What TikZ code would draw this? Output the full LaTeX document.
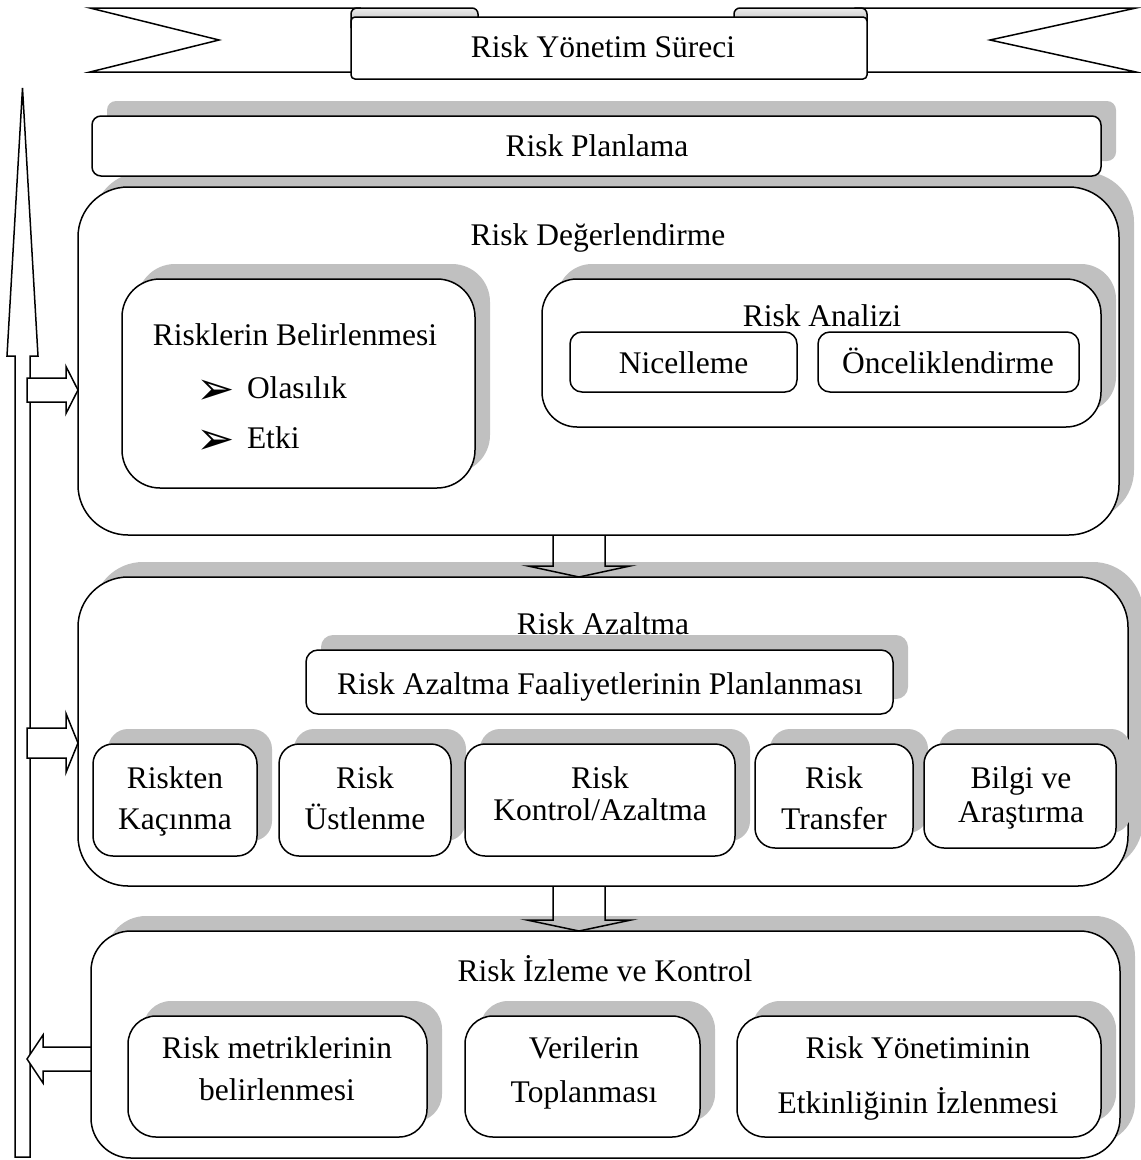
\documentclass[tikz,border=0pt]{standalone}
\usepackage{fontspec}
\setmainfont{Liberation Serif}
\newfontfamily\dingfont{DejaVu Sans}
\usetikzlibrary{calc,shadows}
\definecolor{shadegray}{RGB}{192,192,192}

% right/left pointing block arrow: start, tip, shaft half height, head half height, head offset
\newcommand\sideblock[5]{%
  \draw[outline, fill=white] ($(#1)+(0,-#3)$) -- ($(#2)+(#5,-#3)$) -- ($(#2)+(#5,-#4)$)
    -- (#2) -- ($(#2)+(#5,#4)$) -- ($(#2)+(#5,#3)$) -- ($(#1)+(0,#3)$) -- cycle;}
% downward block arrow: start, tip, shaft half width, head half width, head length
\newcommand\downblock[5]{%
  \draw[outline] ($(#1)+(-#3,0)$) -- ($(#2)+(-#3,-#5)$) -- ($(#2)+(-#4,-#5)$)
    -- (#2) -- ($(#2)+(#4,-#5)$) -- ($(#2)+(#3,-#5)$) -- ($(#1)+(#3,0)$);}

\begin{document}
\begin{tikzpicture}[x=1pt,y=-1pt,
  every node/.style={inner sep=0pt, outer sep=0pt},
  outline/.style={draw=black, line width=1.5pt, line join=miter},
  frame/.style={draw=black, fill=white, line width=1.5pt},
  shadowed/.style={frame, drop shadow={shadow xshift=15pt, shadow yshift=15pt, opacity=1, fill=shadegray, draw=none}},
  lbl/.style={font=\fontsize{31.5}{38}\selectfont, anchor=base},
  lblw/.style={font=\fontsize{31.5}{38}\selectfont, anchor=base west},
  bullet/.style={font=\dingfont\fontsize{46}{46}\selectfont, anchor=base west},
]
\useasboundingbox (0,0) rectangle (1141,1160);

% ---------- title ribbon ----------
\draw[outline, fill=white] (90,8) -- (360,8) -- (360,72) -- (90,72) -- (219,40) -- cycle;
\draw[outline, fill=white] (1136,8) -- (855,8) -- (855,72) -- (1136,72) -- (990,40) -- cycle;
\draw[outline, top color=gray!15, bottom color=gray!60, rounded corners=6pt] (351,28) -- (351,8) -- (478,8) -- (478,28);
\draw[outline, top color=gray!15, bottom color=gray!60, rounded corners=6pt] (734,28) -- (734,8) -- (867,8) -- (867,28);
\node[frame, rounded corners=4pt, minimum width=516pt, minimum height=62pt] (ribbon) at (609,48) {};
\node[lbl] (ribbonT) at (603,57) {Risk Yönetim Süreci};

% ---------- main stages ----------
\node[shadowed, rounded corners=50pt, minimum width=1041pt, minimum height=348pt] (deger) at (598.5,361) {};
\node[shadowed, rounded corners=9pt, minimum width=1009pt, minimum height=60pt] (plan) at (596.5,146) {};
\node[lbl] (planT) at (597,156) {Risk Planlama};
\node[lbl] (degerT) at (598,245) {Risk Değerlendirme};

\node[shadowed, rounded corners=38pt, minimum width=353pt, minimum height=209pt] (belir) at (298.5,383.5) {};
\node[lbl] (belirT) at (295,345) {Risklerin Belirlenmesi};
\node[bullet] (bul1) at (196,404) {➢};
\node[lblw] (olaT) at (247,398) {Olasılık};
\node[bullet] (bul2) at (196,454) {➢};
\node[lblw] (etkiT) at (247,448) {Etki};

\node[shadowed, rounded corners=35pt, minimum width=559pt, minimum height=148pt] (analiz) at (821.5,353) {};
\node[lbl] (analizT) at (822,326) {Risk Analizi};
\node[frame, rounded corners=12pt, minimum width=227pt, minimum height=60pt] (nicel) at (683.5,362) {};
\node[lbl] (nicelT) at (683.5,373) {Nicelleme};
\node[frame, rounded corners=12pt, minimum width=261pt, minimum height=60pt] (oncel) at (948.5,362) {};
\node[lbl] (oncelT) at (948,373) {Önceliklendirme};

\node[shadowed, rounded corners=50pt, minimum width=1050pt, minimum height=309pt] (azalt) at (603,731.5) {};
\node[lbl] (azaltT) at (603,634) {Risk Azaltma};
\node[shadowed, rounded corners=12pt, minimum width=587pt, minimum height=64pt] (faal) at (599.5,682) {};
\node[lbl] (faalT) at (600,694) {Risk Azaltma Faaliyetlerinin Planlanması};

\node[shadowed, rounded corners=20pt, minimum width=164pt, minimum height=112pt] (kacin) at (175,800) {};
\node[lbl] (kacinA) at (175,788) {Riskten};
\node[lbl] (kacinB) at (175,829) {Kaçınma};
\node[shadowed, rounded corners=20pt, minimum width=172pt, minimum height=112pt] (ustlen) at (365,800) {};
\node[lbl] (ustlenA) at (365,788) {Risk};
\node[lbl] (ustlenB) at (365,829) {Üstlenme};
\node[shadowed, rounded corners=20pt, minimum width=270pt, minimum height=112pt] (kontrol) at (600,800) {};
\node[lbl] (kontrolA) at (600,788) {Risk};
\node[lbl] (kontrolB) at (600,820) {Kontrol/Azaltma};
\node[shadowed, rounded corners=20pt, minimum width=158pt, minimum height=104pt] (transfer) at (834,796) {};
\node[lbl] (transferA) at (834,788) {Risk};
\node[lbl] (transferB) at (834,829) {Transfer};
\node[shadowed, rounded corners=20pt, minimum width=192pt, minimum height=104pt] (bilgi) at (1020,796) {};
\node[lbl] (bilgiA) at (1021,788) {Bilgi ve};
\node[lbl] (bilgiB) at (1021,822) {Araştırma};

\node[shadowed, rounded corners=40pt, minimum width=1029pt, minimum height=227pt] (izleme) at (605.5,1044.5) {};
\node[lbl] (izlemeT) at (605,981) {Risk İzleme ve Kontrol};
\node[shadowed, rounded corners=28pt, minimum width=299pt, minimum height=121pt] (metrik) at (277.5,1076.5) {};
\node[lbl] (metrikA) at (277,1058) {Risk metriklerinin};
\node[lbl] (metrikB) at (277,1100) {belirlenmesi};
\node[shadowed, rounded corners=28pt, minimum width=235pt, minimum height=121pt] (veri) at (582.5,1076.5) {};
\node[lbl] (veriA) at (584,1058) {Verilerin};
\node[lbl] (veriB) at (584,1102) {Toplanması};
\node[shadowed, rounded corners=28pt, minimum width=364pt, minimum height=121pt] (etkin) at (919,1076.5) {};
\node[lbl] (etkinA) at (918,1058) {Risk Yönetiminin};
\node[lbl] (etkinB) at (918,1113) {Etkinliğinin İzlenmesi};

% ---------- flow between stages ----------
\coordinate (ax) at (579,0);
\coordinate (d1s) at (deger.south -| ax);
\coordinate (d1t) at (azalt.north -| ax);
\downblock{d1s}{d1t}{26}{51}{11}
\coordinate (d2s) at (azalt.south -| ax);
\coordinate (d2t) at (izleme.north -| ax);
\downblock{d2s}{d2t}{26}{52}{11}

% ---------- feedback arrow on the left ----------
\coordinate (mtip) at (22.5,88);
\draw[outline, fill=white] (15,1157) -- (15,356) -- (7,356) -- (mtip) -- (38,356) -- (30,356) -- (30,1157) -- cycle;

\coordinate (s1) at (27,390);
\coordinate (t1) at (deger.west |- s1);
\sideblock{s1}{t1}{12}{23.5}{-12}
\coordinate (s2) at (27,743);
\coordinate (t2) at (azalt.west |- s2);
\sideblock{s2}{t2}{15}{29.5}{-12}
\coordinate (t3) at (27,1059);
\coordinate (s3) at (izleme.west |- t3);
\sideblock{s3}{t3}{12}{24}{16}
\end{tikzpicture}
\end{document}
